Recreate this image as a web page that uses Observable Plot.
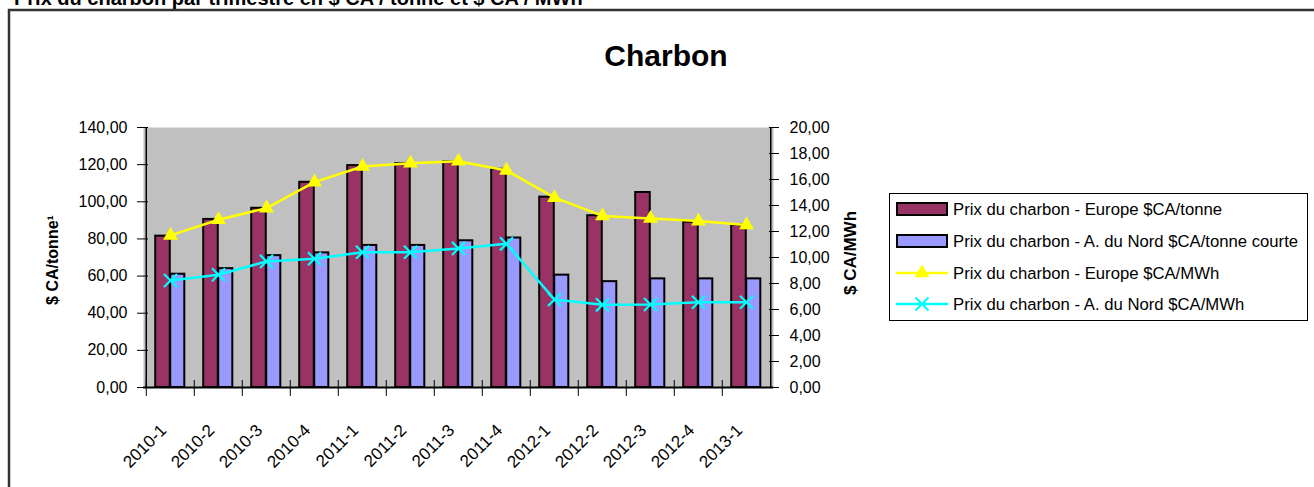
<!DOCTYPE html>
<html><head><meta charset="utf-8">
<script src="https://cdn.jsdelivr.net/npm/d3@7"></script>
<script src="https://cdn.jsdelivr.net/npm/@observablehq/plot@0.6"></script>
<style>
html,body{margin:0;padding:0;background:#fff;}
#wrap{position:relative;width:1314px;height:487px;overflow:hidden;font-family:"Liberation Sans",Arial,sans-serif;background:#fff;}
#chart,#overlay{position:absolute;left:0;top:0;}
</style></head><body>
<div id="wrap"><div id="chart"></div><svg id="overlay" width="1314" height="487"></svg></div>
<script>
// ---- data ----
const quarters = ["2010-1","2010-2","2010-3","2010-4","2011-1","2011-2","2011-3","2011-4","2012-1","2012-2","2012-3","2012-4","2013-1"];
const europeTonne = [81.5, 90.5, 96.5, 110.5, 119.5, 120.5, 121.5, 117.5, 102.5, 92.5, 105, 89, 87.5];
const naTonne = [61, 64, 71, 72.5, 76.5, 76.5, 79, 80.5, 60.5, 57, 58.5, 58.5, 58.5];
const europeMWh = [11.7, 12.9, 13.8, 15.8, 17.0, 17.25, 17.4, 16.7, 14.6, 13.2, 13.0, 12.8, 12.5];
const naMWh = [8.23, 8.67, 9.7, 9.9, 10.4, 10.4, 10.7, 11.05, 6.77, 6.36, 6.38, 6.56, 6.56];
const leftTicks = [0, 20, 40, 60, 80, 100, 120, 140];
const rightTicks = [0, 2, 4, 6, 8, 10, 12, 14, 16, 18, 20];
const seriesNames = ["Prix du charbon - Europe $CA/tonne", "Prix du charbon - A. du Nord $CA/tonne courte", "Prix du charbon - Europe $CA/MWh", "Prix du charbon - A. du Nord $CA/MWh"];
const pageTitle = "Prix du charbon par trimestre en $ CA / tonne et $ CA / MWh";
const chartTitle = "Charbon";
const leftLabel = "$ CA/tonne¹";
const rightLabel = "$ CA/MWh";

// ---- layout ----
const W = 1314, H = 487, mL = 143, mR = 541, mT = 127, mB = 100;
const step = (W - mL - mR) / quarters.length;
const leftMax = 140, rightMax = 20, k = leftMax / rightMax;
const fmt = d => d.toFixed(2).replace(".", ",");
const blank = () => "";
const FONT = '"Liberation Sans", Arial, sans-serif';
const C_EU = "#993366", C_NA = "#9999ff", C_EUL = "#ffff00", C_NAL = "#00ffff";

const rows = quarters.map((q, i) => ({q, eu: europeTonne[i], na: naTonne[i], euM: europeMWh[i] * k, naM: naMWh[i] * k}));
const rTicks = rightTicks.map(v => v * k);

const plot = Plot.plot({
  width: W, height: H, marginLeft: mL, marginRight: mR, marginTop: mT, marginBottom: mB,
  style: {fontFamily: FONT, fontSize: "16px", background: "transparent", color: "#000"},
  x: {type: "band", domain: quarters, padding: 0, axis: null, label: null},
  y: {domain: [0, leftMax], axis: null, label: null},
  marks: [
    Plot.frame({fill: "#c0c0c0", stroke: null}),
    Plot.barY(rows, {x: "q", y: "eu", fill: C_EU, stroke: "#000", strokeWidth: 2, insetLeft: step * 0.19, insetRight: step * 0.5}),
    Plot.barY(rows, {x: "q", y: "na", fill: C_NA, stroke: "#000", strokeWidth: 2, insetLeft: step * 0.5, insetRight: step * 0.2}),
    Plot.lineY(rows, {x: "q", y: "euM", stroke: C_EUL, strokeWidth: 2.5}),
    Plot.dot(rows, {x: "q", y: "euM", symbol: "triangle", r: 5.5, fill: C_EUL, stroke: null}),
    Plot.lineY(rows, {x: "q", y: "naM", stroke: C_NAL, strokeWidth: 2.5}),
    Plot.dot(rows, {x: "q", y: "naM", symbol: "times", r: 6, stroke: C_NAL, strokeWidth: 2.2}),
    Plot.ruleX([quarters[0]], {x: d => d, dx: -step / 2, stroke: "#000", strokeWidth: 1.5}),
    Plot.ruleX([quarters[quarters.length - 1]], {x: d => d, dx: step / 2, stroke: "#000", strokeWidth: 1.5}),
    Plot.ruleY([0], {stroke: "#000", strokeWidth: 2}),
    Plot.axisY({anchor: "left", ticks: leftTicks, tickFormat: fmt, tickSize: 6, tickPadding: 10, label: null, fontSize: 16}),
    Plot.axisY({anchor: "left", ticks: leftTicks, tickFormat: blank, tickSize: 5, dx: 5, label: null}),
    Plot.axisY({anchor: "right", ticks: rTicks, tickFormat: d => fmt(d / k), tickSize: 5, tickPadding: 11, label: null, fontSize: 16}),
    Plot.axisY({anchor: "right", ticks: rTicks, tickFormat: blank, tickSize: 5, dx: -5, label: null}),
    Plot.axisX({anchor: "bottom", tickFormat: blank, tickSize: 9, dx: -step / 2, label: null}),
    Plot.axisX({anchor: "bottom", tickFormat: blank, tickSize: 7, dx: -step / 2, dy: -7, label: null}),
    Plot.axisX({anchor: "bottom", tickRotate: -45, tickSize: 0, tickPadding: 40, dx: -7, label: null, fontSize: 17})
  ]
});
document.getElementById("chart").appendChild(plot);

// ---- overlay: titles, border, legend ----
const svg = d3.select("#overlay").style("font-family", FONT);
svg.append("rect").attr("x", 9).attr("y", 10).attr("width", 1330).attr("height", 520)
  .attr("fill", "none").attr("stroke", "#333").attr("stroke-width", 2.5);
svg.append("text").attr("x", 14).attr("y", 5).attr("font-weight", "bold").attr("font-size", 20).text(pageTitle);
svg.append("text").attr("x", 666).attr("y", 66).attr("text-anchor", "middle").attr("font-weight", "bold").attr("font-size", 30).text(chartTitle);
svg.append("text").attr("transform", "translate(58,260) rotate(-90)").attr("text-anchor", "middle").attr("font-weight", "bold").attr("font-size", 16).text(leftLabel);
svg.append("text").attr("transform", "translate(856,253) rotate(-90)").attr("text-anchor", "middle").attr("font-weight", "bold").attr("font-size", 17).text(rightLabel);

const lg = svg.append("g");
lg.append("rect").attr("x", 889.5).attr("y", 193.5).attr("width", 418).attr("height", 127).attr("fill", "#fff").attr("stroke", "#000").attr("stroke-width", 1);
const rowY = [209, 241, 273, 304];
const sw0 = 896, sw1 = 948, swc = (sw0 + sw1) / 2;
seriesNames.forEach((name, i) => {
  const y = rowY[i];
  if (i < 2) {
    lg.append("rect").attr("x", sw0 + 1).attr("y", y - 6).attr("width", sw1 - sw0 - 2).attr("height", 12)
      .attr("fill", i === 0 ? C_EU : C_NA).attr("stroke", "#000").attr("stroke-width", 2);
  } else {
    const c = i === 2 ? C_EUL : C_NAL;
    lg.append("line").attr("x1", sw0).attr("x2", sw1).attr("y1", y).attr("y2", y).attr("stroke", c).attr("stroke-width", 2.5);
    if (i === 2) {
      lg.append("path").attr("transform", `translate(${swc},${y})`).attr("d", d3.symbol(d3.symbolTriangle, 5.5 * 5.5 * Math.PI)()).attr("fill", c);
    } else {
      lg.append("path").attr("transform", `translate(${swc},${y})`).attr("d", d3.symbol(d3.symbolTimes, 6 * 6 * Math.PI)()).attr("fill", "none").attr("stroke", c).attr("stroke-width", 2.2);
    }
  }
  lg.append("text").attr("x", 953).attr("y", y).attr("dy", "0.35em").attr("font-size", 16.7).text(name);
});
</script>
</body></html>
